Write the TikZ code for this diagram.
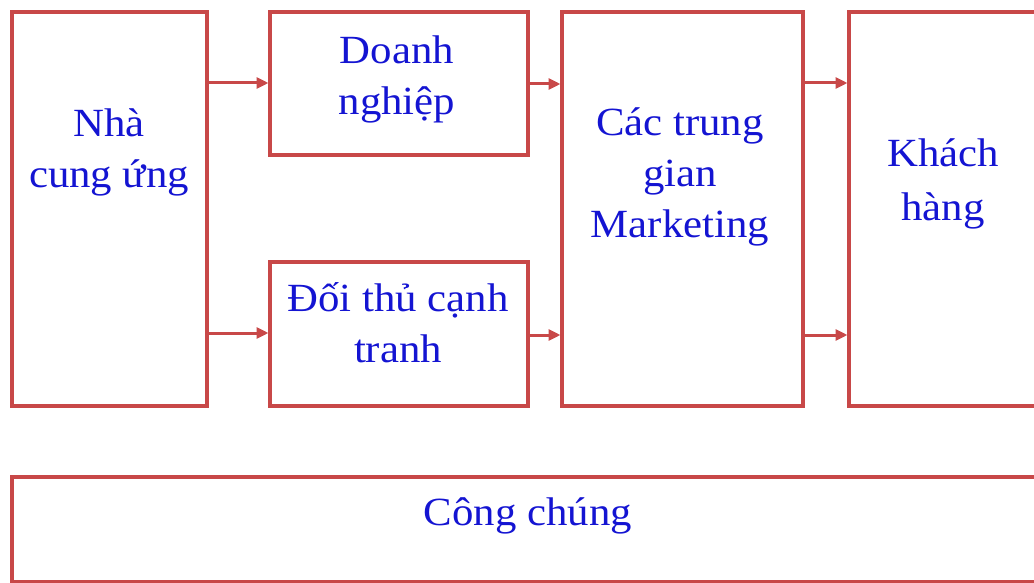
\documentclass[tikz,border=0pt]{standalone}
\usepackage{fontspec}
\setmainfont{Liberation Serif}[FakeStretch=1.07]
\usetikzlibrary{arrows.meta}
\definecolor{boxred}{RGB}{200,72,72}
\definecolor{txtblue}{RGB}{20,20,210}
\begin{document}
\begin{tikzpicture}[x=1pt,y=-1pt,
  box/.style={draw=boxred,line width=3.5pt,inner sep=0pt,outer sep=0pt,anchor=north west},
  lbl/.style={text=txtblue,font=\fontsize{40}{51}\selectfont,align=center,anchor=base,inner sep=0pt},
  arr/.style={draw=boxred,line width=3pt,shorten >=1.5pt,-{Triangle[length=12pt,width=11pt]}}]
\useasboundingbox (0,0) rectangle (1034,583);
\clip (0,0) rectangle (1034,583);
\node[box,minimum width=195pt,minimum height=394pt] (ncu) at (12,12) {};
\node[box,minimum width=258pt,minimum height=143pt] (dn) at (270,12) {};
\node[box,minimum width=258pt,minimum height=144pt] (dt) at (270,262) {};
\node[box,minimum width=241pt,minimum height=394pt] (tg) at (562,12) {};
\node[box,minimum width=200pt,minimum height=394pt] (kh) at (849,12) {};
\node[box,minimum width=1040pt,minimum height=105pt] (cc) at (12,477) {};
\draw[arr] (ncu.east |- 0,83) -- (dn.west |- 0,83);
\draw[arr] (ncu.east |- 0,333) -- (dt.west |- 0,333);
\draw[arr] (dn.east |- 0,84) -- (tg.west |- 0,84);
\draw[arr] (dt.east |- 0,335) -- (tg.west |- 0,335);
\draw[arr] (tg.east |- 0,83) -- (kh.west |- 0,83);
\draw[arr] (tg.east |- 0,335) -- (kh.west |- 0,335);
\node[lbl] (ncut) at (109,187) {Nhà\\cung ứng};
\node[lbl] (dnt) at (397,115) {Doanh\\nghiệp};
\node[lbl] (dtt) at (398,362) {Đối thủ cạnh\\tranh};
\node[lbl] (tgt) at (680,237) {Các trung\\gian\\Marketing};
\node[lbl,font=\fontsize{40}{54}\selectfont] (kht) at (943,220) {Khách\\hàng};
\node[lbl] (cct) at (528,525) {Công chúng};
\end{tikzpicture}
\end{document}
